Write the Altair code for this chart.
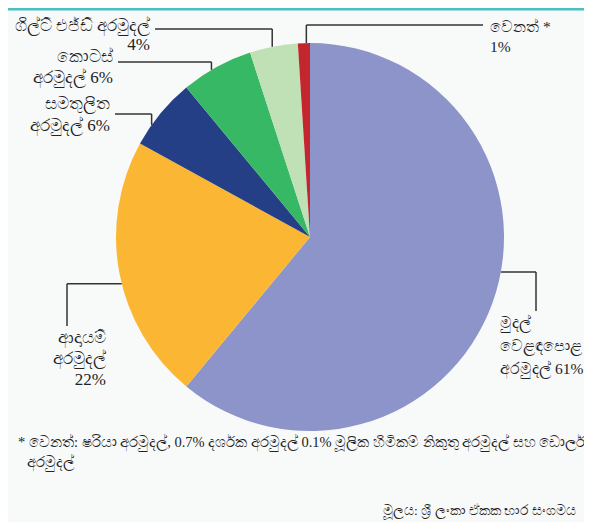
import math
import altair as alt
import pandas as pd

# ---------------- data ----------------
categories = [
    "මුදල් වෙළඳපොළ අරමුදල්",
    "ආදායම් අරමුදල්",
    "සමතුලිත අරමුදල්",
    "කොටස් අරමුදල්",
    "ගිල්ට් එජ්ඩ් අරමුදල්",
    "වෙනත්",
]
shares = [61, 22, 6, 6, 4, 1]
label_lines = [
    ["මුදල්", "වෙළඳපොළ", "අරමුදල් 61%"],
    ["ආදායම්", "අරමුදල්", "22%"],
    ["සමතුලිත", "අරමුදල් 6%"],
    ["කොටස්", "අරමුදල් 6%"],
    ["ගිල්ට් එජ්ඩ් අරමුදල්", "4%"],
    ["වෙනත් *", "1%"],
]
footnote_lines = [
    "* වෙනත්: ෂරියා අරමුදල්, 0.7% දර්ශක අරමුදල් 0.1% මූලික හිමිකම් නිකුතු අරමුදල් සහ ඩොලර්",
    "අරමුදල්",
]
source_text = "මූලය: ශ්‍රී ලංකා ඒකක භාර සංගමය"

# ---------------- style / layout ----------------
colors = ["#8c94c9", "#fbb734", "#253f87", "#36b864", "#c0e0b6", "#c1272d"]
W, H = 576, 514
CX, CY, R = 302, 229, 194
FONT = "Liberation Serif"
LINE_COLOR = "#333333"

label_layout = [
    dict(x=492, y=315, align="left", lh=23, kind="down", lead=528, frac=0.457),
    dict(x=98, y=330, align="right", lh=21, kind="down", lead=59, frac=0.46),
    dict(x=102, y=96, align="right", lh=22, kind="side", lead=106, frac=0.30),
    dict(x=105, y=49, align="right", lh=21, kind="side", lead=54, frac=0.42),
    dict(x=142, y=18, align="right", lh=19, kind="side", lead=21, frac=0.47),
    dict(x=482, y=19, align="left", lh=20, kind="side", lead=17, frac=0.70),
]

# ---------------- tables ----------------
pie_df = pd.DataFrame({"category": categories, "share": shares, "idx": range(len(shares))})

total = sum(shares)
text_rows, rule_rows = [], []
start = 0.0
for cat, s, lines, lay in zip(categories, shares, label_lines, label_layout):
    a0 = start / total * 360
    a1 = (start + s) / total * 360
    start += s
    ang = math.radians(a0 + (a1 - a0) * lay["frac"])
    ex = CX + R * math.sin(ang)
    ey = CY - R * math.cos(ang)
    for i, ln in enumerate(lines):
        text_rows.append(dict(t=ln, x=lay["x"], y=lay["y"] + i * lay["lh"], align=lay["align"]))
    if lay["kind"] == "side":
        tx = lay["x"] + 5 if lay["align"] == "right" else lay["x"] - 7
        ly = lay["lead"]
        rule_rows.append(dict(x=tx, x2=ex, y=ly, y2=ly))
        rule_rows.append(dict(x=ex, x2=ex, y=ly, y2=ey))
    else:
        lx = lay["lead"]
        rule_rows.append(dict(x=ex, x2=lx, y=ey, y2=ey))
        rule_rows.append(dict(x=lx, x2=lx, y=ey, y2=lay["y"] - 12))

text_df = pd.DataFrame(text_rows)
rule_df = pd.DataFrame(rule_rows)

foot_df = pd.DataFrame({
    "t": footnote_lines,
    "x": [10, 19],
    "y": [435, 455],
})
source_df = pd.DataFrame({"t": [source_text], "x": [375], "y": [503]})

# ---------------- chart ----------------
pie = alt.Chart(pie_df).mark_arc(outerRadius=R).encode(
    theta=alt.Theta("share:Q", stack=True),
    color=alt.Color("category:N", scale=alt.Scale(domain=categories, range=colors), legend=None),
    order=alt.Order("idx:Q"),
    x=alt.value(CX),
    y=alt.value(CY),
)

rules = alt.Chart(rule_df).mark_rule(color=LINE_COLOR, strokeWidth=1.5).encode(
    x=alt.X("x:Q", scale=None),
    x2="x2:Q",
    y=alt.Y("y:Q", scale=None),
    y2="y2:Q",
)

labels_right = alt.Chart(text_df[text_df["align"] == "right"]).mark_text(
    align="right", baseline="middle", font=FONT, fontSize=17, color="#222222"
).encode(x=alt.X("x:Q", scale=None), y=alt.Y("y:Q", scale=None), text="t:N")

labels_left = alt.Chart(text_df[text_df["align"] == "left"]).mark_text(
    align="left", baseline="middle", font=FONT, fontSize=15.5, color="#222222"
).encode(x=alt.X("x:Q", scale=None), y=alt.Y("y:Q", scale=None), text="t:N")

foot = alt.Chart(foot_df).mark_text(
    align="left", baseline="middle", font=FONT, fontSize=14.5, color="#222222"
).encode(x=alt.X("x:Q", scale=None), y=alt.Y("y:Q", scale=None), text="t:N")

source = alt.Chart(source_df).mark_text(
    align="left", baseline="middle", font=FONT, fontSize=13.5, color="#222222"
).encode(x=alt.X("x:Q", scale=None), y=alt.Y("y:Q", scale=None), text="t:N")

top_line = alt.Chart(pd.DataFrame({"v": [0]})).mark_rule(color="#4cbfbf", strokeWidth=3).encode(
    x=alt.value(0), x2=alt.value(W), y=alt.value(1)
)

chart = alt.layer(pie, rules, labels_right, labels_left, foot, source, top_line).properties(
    width=W, height=H, autosize=alt.AutoSizeParams(type="none"), padding=0,
    background="#f8fafa",
).configure_view(stroke=None)

chart.save("out.html", embed_options={"renderer": "svg", "actions": False})
